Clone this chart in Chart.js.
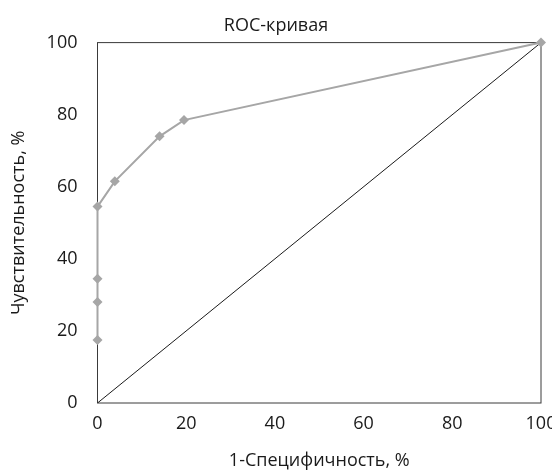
<!DOCTYPE html>
<html lang="ru">
<head>
<meta charset="UTF-8">
<title>ROC-кривая</title>
<script src="https://cdn.jsdelivr.net/npm/chart.js"></script>
<style>
    html, body { margin: 0; padding: 0; background: #fff; }
    #wrap { width: 552px; height: 472px; position: relative; }
</style>
</head>
<body>
<div id="wrap"><canvas id="rocChart"></canvas></div>
<script>
    // data
    const fprValues = [0, 0, 0, 0, 3.9, 14, 19.5, 100];
    const tprValues = [17.5, 28, 34.5, 54.5, 61.5, 74, 78.5, 100];
    const diagX = [0, 100];
    const diagY = [0, 100];
    const tickValues = [0, 20, 40, 60, 80, 100];

    const textColor = '#1a1a1a';
    const fontFamily = "'Open Sans', 'DejaVu Sans', sans-serif";

    // frame around the plot area
    const frame = {
        id: 'frame',
        beforeDatasetsDraw(chart) {
            const { ctx, chartArea: a } = chart;
            ctx.save();
            ctx.strokeStyle = '#3a3a3a';
            ctx.lineWidth = 1;
            ctx.strokeRect(a.left, a.top, a.right - a.left, a.bottom - a.top);
            ctx.restore();
        }
    };

    new Chart(document.getElementById('rocChart'), {
        type: 'scatter',
        data: {
            datasets: [
                {
                    label: 'ROC',
                    data: fprValues.map((x, i) => ({ x, y: tprValues[i] })),
                    showLine: true,
                    borderColor: '#a6a6a6',
                    backgroundColor: '#a6a6a6',
                    borderWidth: 2,
                    pointStyle: 'rectRot',
                    pointRadius: 5,
                    pointBorderWidth: 0,
                    clip: false
                },
                {
                    label: 'diag',
                    data: diagX.map((x, i) => ({ x, y: diagY[i] })),
                    showLine: true,
                    borderColor: '#1a1a1a',
                    borderWidth: 1,
                    pointRadius: 0
                }
            ]
        },
        options: {
            responsive: true,
            maintainAspectRatio: false,
            animation: false,
            layout: { padding: 0 },
            plugins: {
                legend: { display: false },
                tooltip: { enabled: false },
                title: {
                    display: true,
                    text: 'ROC-кривая',
                    color: textColor,
                    font: { family: fontFamily, size: 18, weight: 'normal', lineHeight: 1.2 },
                    padding: { top: 15, bottom: 6 }
                }
            },
            scales: {
                x: {
                    type: 'linear',
                    min: 0, max: 100,
                    afterBuildTicks: s => { s.ticks = tickValues.map(v => ({ value: v })); },
                    afterFit: s => { s.height = 69; s.paddingLeft = 0; s.paddingRight = 11; },
                    grid: { display: false, drawTicks: false },
                    border: { display: false },
                    ticks: { color: textColor, padding: 10, maxRotation: 0, font: { family: fontFamily, size: 18 } },
                    title: {
                        display: true,
                        text: '1-Специфичность, %',
                        color: textColor,
                        font: { family: fontFamily, size: 18, lineHeight: 1.2 },
                        padding: { top: 0, bottom: 0 }
                    }
                },
                y: {
                    type: 'linear',
                    min: 0, max: 100,
                    afterBuildTicks: s => { s.ticks = tickValues.map(v => ({ value: v })); },
                    afterFit: s => { s.width = 97.5; s.paddingTop = 0; s.paddingBottom = 0; },
                    grid: { display: false, drawTicks: false },
                    border: { display: false },
                    ticks: { color: textColor, padding: 20, font: { family: fontFamily, size: 18 } },
                    title: {
                        display: true,
                        text: 'Чувствительность, %',
                        color: textColor,
                        font: { family: fontFamily, size: 18, lineHeight: 1.2 },
                        padding: { top: 8, bottom: 0 }
                    }
                }
            }
        },
        plugins: [frame]
    });
</script>
</body>
</html>
